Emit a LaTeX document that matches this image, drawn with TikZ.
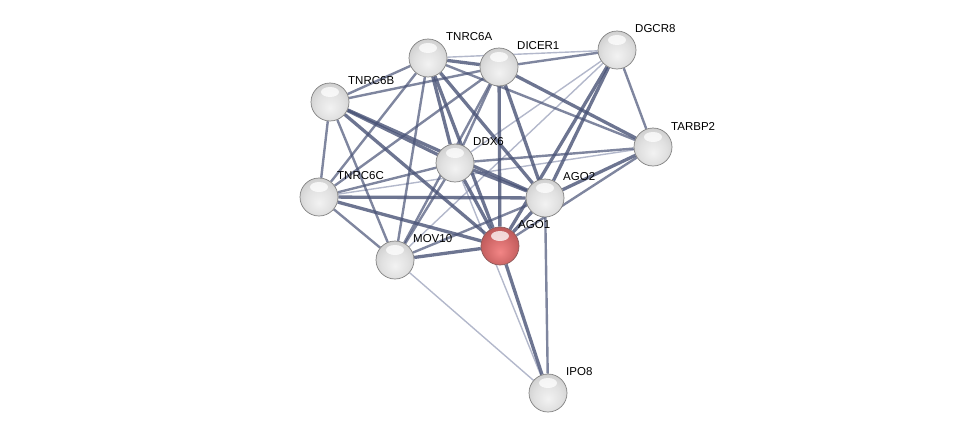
\documentclass[tikz,border=0pt]{standalone}
\usepackage{fontspec}
\setmainfont{Liberation Sans}
\usetikzlibrary{backgrounds}

\definecolor{edgecol}{RGB}{72,82,118}
\definecolor{edgelight}{RGB}{160,166,190}
\pgfdeclareradialshading{greyball}{\pgfpoint{0bp}{-8bp}}{color(0bp)=(white!95!black);
  color(18bp)=(white!88!black); color(34bp)=(white!78!black); color(44bp)=(white!66!black); color(50bp)=(white!50!black)}
\pgfdeclareradialshading{redball}{\pgfpoint{0bp}{-8bp}}{color(0bp)=(red!45!white!95!black);
  color(18bp)=(red!50!white!82!black); color(34bp)=(red!55!white!70!black); color(44bp)=(red!55!white!58!black); color(50bp)=(red!55!white!42!black)}

\begin{document}
\begin{tikzpicture}[
    x=1pt, y=-1pt,
    protein/.style={circle, minimum size=38pt, inner sep=0pt, shading=greyball, draw=black!50, line width=0.7pt,
      path picture={\fill[white, opacity=0.75] (path picture bounding box.center) ++(0,-10) ellipse (9pt and 5pt);}},
    query/.style={protein, shading=redball, draw=red!30!black!65},
    lab/.style={anchor=west, font=\fontsize{11.5}{13}\selectfont, inner sep=0pt, xshift=18pt, yshift=21pt},
    strong/.style={draw=edgecol, draw opacity=0.8, line width=3.3pt},
    medium/.style={draw=edgecol, draw opacity=0.7, line width=2.4pt},
    weak/.style={draw=edgelight, draw opacity=0.8, line width=1.4pt}
]
\useasboundingbox (0,0) rectangle (976,439);

% Bialka
\node[protein] (TNRC6A) at (428,58) {};
\node[protein] (DICER1) at (499,67) {};
\node[protein] (DGCR8) at (617,50) {};
\node[protein] (TNRC6B) at (330,102) {};
\node[protein] (TARBP2) at (653,147) {};
\node[protein] (DDX6) at (455,163) {};
\node[protein] (TNRC6C) at (319,197) {};
\node[protein] (AGO2) at (545,198) {};
\node[query] (AGO1) at (500,246) {};
\node[protein] (MOV10) at (395,260) {};
\node[protein] (IPO8) at (548,393) {};

% Nazwy bialek
\node[lab] (lTNRC6A) at (TNRC6A) {TNRC6A};
\node[lab] (lDICER1) at (DICER1) {DICER1};
\node[lab] (lDGCR8) at (DGCR8) {DGCR8};
\node[lab] (lTNRC6B) at (TNRC6B) {TNRC6B};
\node[lab] (lTARBP2) at (TARBP2) {TARBP2};
\node[lab] (lDDX6) at (DDX6) {DDX6};
\node[lab] (lTNRC6C) at (TNRC6C) {TNRC6C};
\node[lab] (lAGO2) at (AGO2) {AGO2};
\node[lab] (lAGO1) at (AGO1) {AGO1};
\node[lab] (lMOV10) at (MOV10) {MOV10};
\node[lab] (lIPO8) at (IPO8) {IPO8};

% Krawedzie pod wezlami
\begin{pgfonlayer}{background}
\draw[weak] (TNRC6A) -- (DGCR8);
\draw[weak] (DGCR8) -- (DDX6);
\draw[weak] (DGCR8) -- (MOV10);
\draw[weak] (TARBP2) -- (TNRC6C);
\draw[weak] (DDX6) -- (IPO8);
\draw[weak] (MOV10) -- (IPO8);

\draw[medium] (TNRC6A) -- (TNRC6B);
\draw[medium] (TNRC6A) -- (TNRC6C);
\draw[medium] (TNRC6A) -- (MOV10);
\draw[medium] (TNRC6A) -- (TARBP2);
\draw[medium] (DICER1) -- (DGCR8);
\draw[medium] (DICER1) -- (TNRC6B);
\draw[medium] (DICER1) -- (TNRC6C);
\draw[medium] (DICER1) -- (MOV10);
\draw[medium] (DICER1) -- (DDX6);
\draw[medium] (DGCR8) -- (TARBP2);
\draw[medium] (TNRC6B) -- (TNRC6C);
\draw[medium] (TNRC6B) -- (MOV10);
\draw[medium] (TARBP2) -- (AGO1);
\draw[medium] (TARBP2) -- (DDX6);
\draw[medium] (DDX6) -- (TNRC6C);
\draw[medium] (DDX6) -- (MOV10);
\draw[medium] (TNRC6C) -- (MOV10);
\draw[medium] (MOV10) -- (AGO2);
\draw[medium] (AGO2) -- (IPO8);

\draw[strong] (TNRC6A) -- (DICER1);
\draw[strong] (TNRC6A) -- (DDX6);
\draw[strong] (TNRC6A) -- (AGO1);
\draw[strong] (TNRC6A) -- (AGO2);
\draw[strong] (DICER1) -- (AGO1);
\draw[strong] (DICER1) -- (AGO2);
\draw[strong] (DICER1) -- (TARBP2);
\draw[strong] (DGCR8) -- (AGO2);
\draw[strong] (DGCR8) -- (AGO1);
\draw[strong] (TNRC6B) -- (DDX6);
\draw[strong] (TNRC6B) -- (AGO2);
\draw[strong] (TNRC6B) -- (AGO1);
\draw[strong] (TARBP2) -- (AGO2);
\draw[strong] (DDX6) -- (AGO1);
\draw[strong] (DDX6) -- (AGO2);
\draw[strong] (TNRC6C) -- (AGO2);
\draw[strong] (TNRC6C) -- (AGO1);
\draw[strong] (MOV10) -- (AGO1);
\draw[strong] (AGO1) -- (AGO2);
\draw[strong] (AGO1) -- (IPO8);
\end{pgfonlayer}

\end{tikzpicture}
\end{document}
